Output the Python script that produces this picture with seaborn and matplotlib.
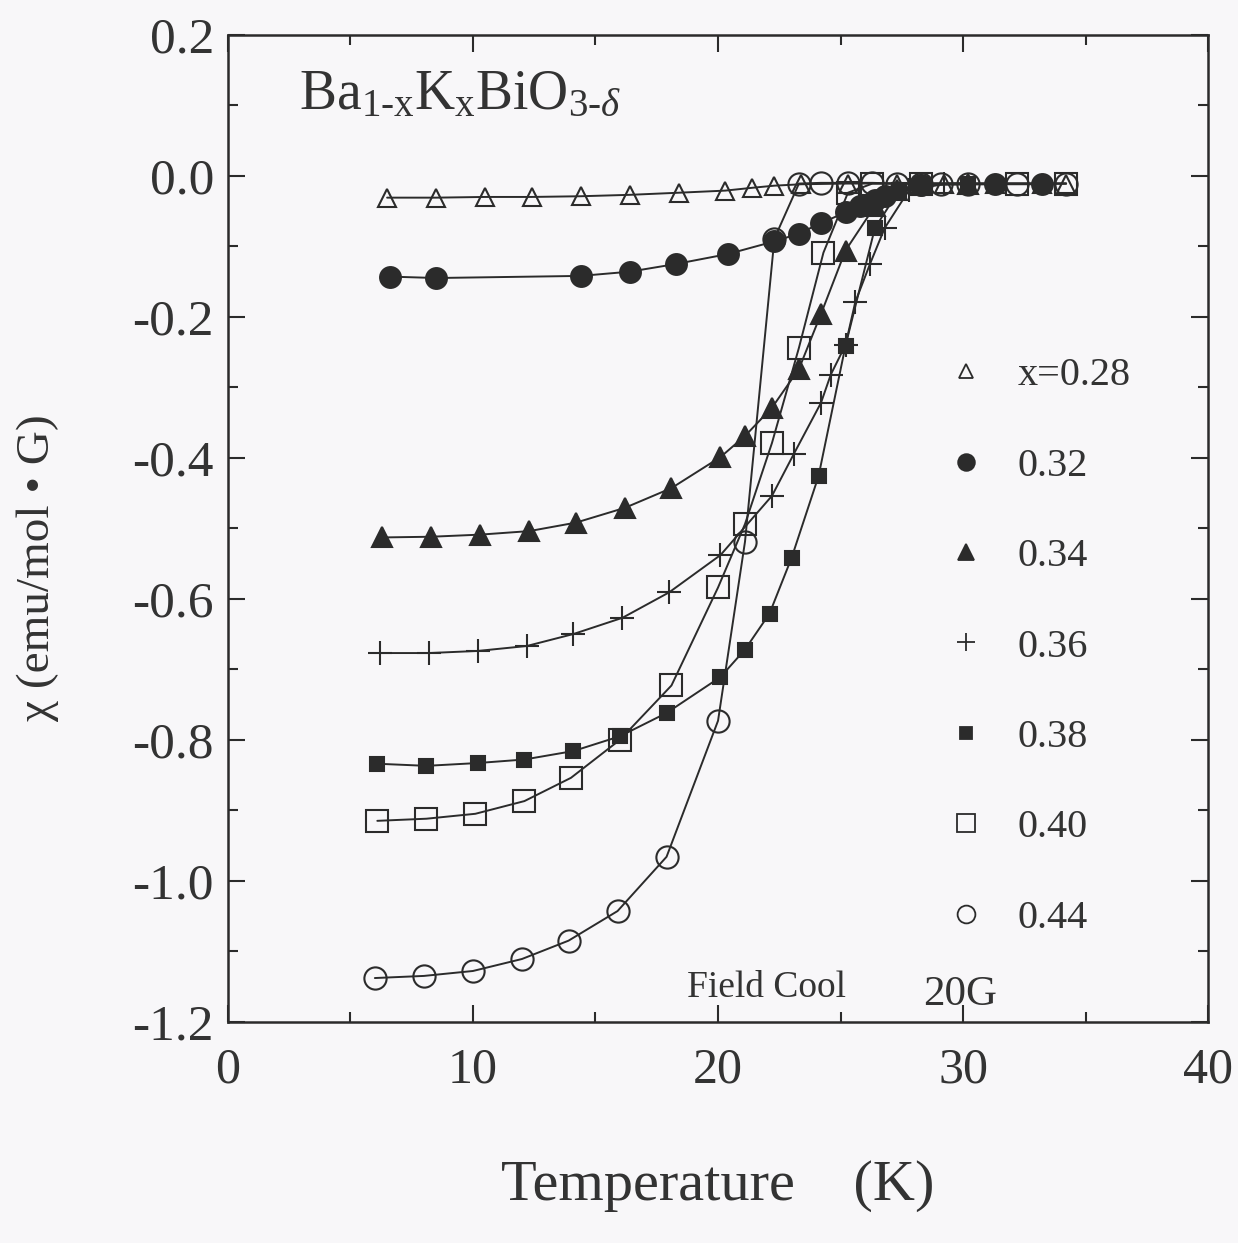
import numpy as np
import pandas as pd
import matplotlib
matplotlib.use("Agg")
import matplotlib.pyplot as plt
from matplotlib.lines import Line2D
from matplotlib.ticker import MultipleLocator
import seaborn as sns

# Data (T in K, chi in emu/mol.G)
T_028 = [6.5, 8.5, 10.5, 12.4, 14.4, 16.4, 18.4, 20.3, 21.4, 22.3, 23.4, 25.3, 27.3, 29.2, 31.3, 33.2, 34.2]
chi_028 = [-0.031, -0.031, -0.030, -0.030, -0.029, -0.027, -0.024, -0.021, -0.017, -0.014, -0.012,
           -0.011, -0.011, -0.011, -0.011, -0.011, -0.011]

T_032 = [6.6, 8.5, 14.4, 16.4, 18.3, 20.4, 22.3, 23.3, 24.2, 25.2, 25.8, 26.4, 26.8, 28.3, 31.3, 33.2]
chi_032 = [-0.143, -0.145, -0.142, -0.136, -0.125, -0.111, -0.093, -0.082, -0.067, -0.052, -0.043,
           -0.035, -0.028, -0.013, -0.012, -0.012]

T_034 = [6.3, 8.3, 10.3, 12.3, 14.2, 16.2, 18.1, 20.1, 21.1, 22.2, 23.3, 24.2, 25.2, 26.4, 27.3, 28.3, 30.2]
chi_034 = [-0.513, -0.512, -0.509, -0.504, -0.492, -0.471, -0.443, -0.399, -0.369, -0.329, -0.274,
           -0.196, -0.106, -0.043, -0.020, -0.012, -0.011]

T_036 = [6.2, 8.2, 10.2, 12.2, 14.1, 16.1, 18.0, 20.1, 22.2, 23.1, 24.2, 24.6, 25.2, 25.6, 26.2, 26.8, 27.8, 29.2]
chi_036 = [-0.677, -0.677, -0.674, -0.667, -0.650, -0.627, -0.591, -0.538, -0.454, -0.394, -0.322,
           -0.282, -0.240, -0.179, -0.125, -0.074, -0.020, -0.012]

T_038 = [6.1, 8.1, 10.2, 12.1, 14.1, 16.0, 17.9, 20.1, 21.1, 22.1, 23.0, 24.1, 25.2, 26.4, 27.4, 28.3, 30.2]
chi_038 = [-0.834, -0.837, -0.833, -0.828, -0.816, -0.795, -0.762, -0.711, -0.672, -0.621, -0.542,
           -0.426, -0.241, -0.074, -0.020, -0.012, -0.011]

T_040 = [6.1, 8.1, 10.1, 12.1, 14.0, 16.0, 18.1, 20.0, 21.1, 22.2, 23.3, 24.3, 25.3, 26.3, 28.3, 32.2, 34.2]
chi_040 = [-0.915, -0.912, -0.905, -0.887, -0.854, -0.800, -0.723, -0.584, -0.494, -0.379, -0.244,
           -0.109, -0.024, -0.011, -0.011, -0.011, -0.011]

T_044 = [6.0, 8.0, 10.0, 12.0, 13.9, 15.9, 17.9, 20.0, 21.1, 22.3, 23.3, 24.2, 25.3, 26.3, 27.3,
         28.3, 29.1, 30.2, 32.2, 34.2]
chi_044 = [-1.138, -1.135, -1.128, -1.111, -1.085, -1.043, -0.966, -0.773, -0.519, -0.089, -0.011,
           -0.010, -0.010, -0.010, -0.011, -0.011, -0.011, -0.011, -0.011, -0.011]

labels = ["x=0.28", "0.32", "0.34", "0.36", "0.38", "0.40", "0.44"]
temps = [T_028, T_032, T_034, T_036, T_038, T_040, T_044]
chis = [chi_028, chi_032, chi_034, chi_036, chi_038, chi_040, chi_044]

ink = "#2b2b2b"
txt = "#333333"
bg = "#f8f7f9"
# marker, filled, size
styles = [("^", False, 13), ("o", True, 15), ("^", True, 14), ("+", False, 17),
          ("s", True, 10), ("s", False, 16), ("o", False, 16)]

sns.set_style("ticks")
plt.rcParams["font.family"] = ["Liberation Serif", "DejaVu Serif"]
plt.rcParams["mathtext.fontset"] = "custom"
plt.rcParams["mathtext.rm"] = "Liberation Serif"
plt.rcParams["mathtext.it"] = "Liberation Serif:italic"
plt.rcParams["axes.unicode_minus"] = False

fig = plt.figure(figsize=(12.38, 12.43), dpi=100, facecolor=bg)
ax = fig.add_axes([0.184, 0.178, 0.792, 0.794])
ax.set_facecolor(bg)

handles = []
for lab, T, chi, (mk, filled, ms) in zip(labels, temps, chis, styles):
    df = pd.DataFrame({"T": T, "chi": chi})
    face = ink if filled else "none"
    sns.lineplot(data=df, x="T", y="chi", ax=ax, color=ink, lw=1.4, estimator=None, sort=True,
                 marker=mk, markersize=ms, markerfacecolor=face, markeredgecolor=ink,
                 markeredgewidth=1.5, zorder=3)
    handles.append(Line2D([], [], linestyle="none", marker=mk, markersize=ms * 0.8,
                          markerfacecolor=face, markeredgecolor=ink, markeredgewidth=1.3,
                          label=lab))

ax.set_xlim(0, 40)
ax.set_ylim(-1.2, 0.2)
ax.xaxis.set_major_locator(MultipleLocator(10))
ax.xaxis.set_minor_locator(MultipleLocator(5))
ax.yaxis.set_major_locator(MultipleLocator(0.2))
ax.yaxis.set_minor_locator(MultipleLocator(0.1))
ax.yaxis.set_major_formatter(matplotlib.ticker.FormatStrFormatter("%.1f"))
ax.tick_params(which="both", direction="in", top=True, right=True, width=1.5, color=ink)
ax.tick_params(which="major", length=12)
ax.tick_params(which="minor", length=7)
ax.tick_params(axis="x", which="major", labelsize=36, pad=18, labelcolor=txt)
ax.tick_params(axis="y", which="major", labelsize=37, pad=10, labelcolor=txt)
for sp in ax.spines.values():
    sp.set_linewidth(1.8)
    sp.set_color(ink)

ax.set_xlabel("Temperature    (K)", fontsize=42, color=txt)
ax.xaxis.set_label_coords(0.5, -0.14)
ax.set_ylabel("χ (emu/mol • G)", fontsize=34, color=txt)
ax.yaxis.set_label_coords(-0.172, 0.46)

ax.text(0.073, 0.925, r"Ba$_{\text{1-x}}$K$_{\text{x}}$BiO$_{\text{3-}\delta}$",
        transform=ax.transAxes, fontsize=40, color=txt, va="baseline")
ax.text(0.468, 0.025, "Field Cool", transform=ax.transAxes, fontsize=27,
        color=txt, va="baseline")
ax.text(0.709, 0.017, "20G", transform=ax.transAxes, fontsize=31,
        color=txt, va="baseline")

leg = ax.legend(handles=handles, loc="upper left", bbox_to_anchor=(0.695, 0.71), frameon=False,
                fontsize=29, labelspacing=1.32, handlelength=1.0, handletextpad=0.8,
                labelcolor=txt)

fig.savefig("out.png", dpi=100, facecolor=bg)
